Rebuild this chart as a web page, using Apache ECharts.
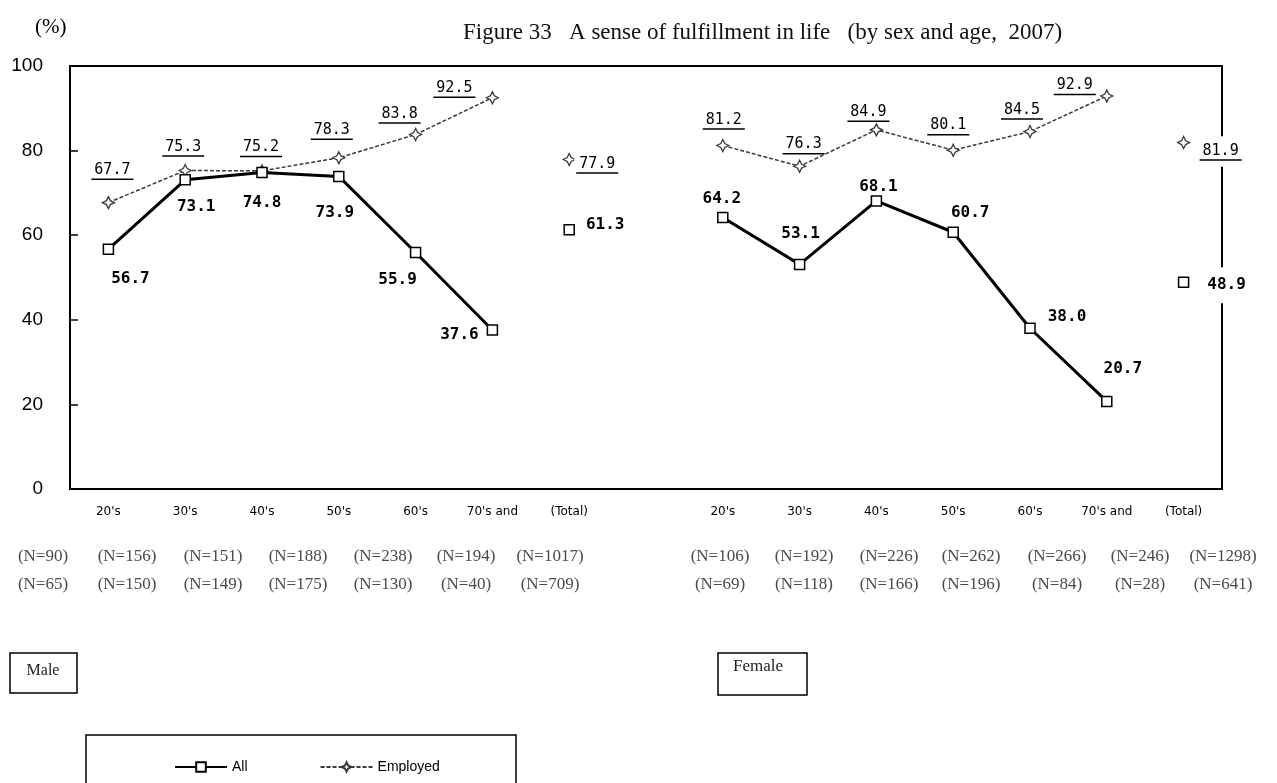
<!DOCTYPE html>
<html>
<head>
<meta charset="utf-8">
<script src="https://cdn.jsdelivr.net/npm/echarts@6/dist/echarts.min.js"></script>
<style>
html,body{margin:0;padding:0;background:#fff;}
#chart{width:1277px;height:783px;}
</style>
</head>
<body>
<div id="chart"></div>
<script>
// ---- data ----
const categories = ["20's","30's","40's","50's","60's","70's and","(Total)","","20's","30's","40's","50's","60's","70's and","(Total)"];
const maleAll = [56.7, 73.1, 74.8, 73.9, 55.9, 37.6];
const maleAllTotal = 61.3;
const femaleAll = [64.2, 53.1, 68.1, 60.7, 38.0, 20.7];
const femaleAllTotal = 48.9;
const maleEmp = [67.7, 75.3, 75.2, 78.3, 83.8, 92.5];
const maleEmpTotal = 77.9;
const femaleEmp = [81.2, 76.3, 84.9, 80.1, 84.5, 92.9];
const femaleEmpTotal = 81.9;
const yTicks = [0, 20, 40, 60, 80, 100];
const maleNAll = ["(N=90)","(N=156)","(N=151)","(N=188)","(N=238)","(N=194)","(N=1017)"];
const maleNEmp = ["(N=65)","(N=150)","(N=149)","(N=175)","(N=130)","(N=40)","(N=709)"];
const femaleNAll = ["(N=106)","(N=192)","(N=226)","(N=262)","(N=266)","(N=246)","(N=1298)"];
const femaleNEmp = ["(N=69)","(N=118)","(N=166)","(N=196)","(N=84)","(N=28)","(N=641)"];
const titleText = "Figure 33   A sense of fulfillment in life   (by sex and age,  2007)";

// ---- layout (label offsets relative to point, px) ----
const allOffsets = [[22,30],[11,27],[0,30],[-4,36],[-18,27],[-33,5],[36,-5],null,[-1,-19],[1,-31],[2,-14],[17,-19],[37,-11],[16,-33],[43,3]];
const empOffsets = [[4,-32],[-2,-23],[-1,-23],[-7,-27],[-16,-20],[-38,-9],[28,5],null,[1,-25],[4,-21],[-8,-17],[-5,-24],[-8,-21],[-32,-10],[37,9]];
const maleNX = [43,127,213,298,383,466,550];
const femaleNX = [720,804,889,971,1057,1140,1223];

const NUL = null;
function lineData(m, f, offs) {
  const arr = [];
  m.forEach((v,i)=>arr.push({value:v, label:{offset:offs[i]}}));
  arr.push(NUL, NUL);
  f.forEach((v,i)=>arr.push({value:v, label:{offset:offs[8+i]}}));
  arr.push(NUL);
  return arr;
}
function totalData(mt, ft, offs) {
  const arr = new Array(15).fill('-');
  arr[6] = {value: mt, label:{offset: offs[6]}};
  arr[14] = {value: ft, label:{offset: offs[14]}};
  return arr;
}

const starPath = 'path://M0,-10 L3.3,-3.3 L10,0 L3.3,3.3 L0,10 L-3.3,3.3 L-10,0 L-3.3,-3.3 Z';
const fmt = p => Number(p.value).toFixed(1);

const allLabel = {
  show: true, position: 'inside', align: 'center', verticalAlign: 'middle',
  formatter: fmt, fontFamily: 'DejaVu Sans Mono', fontWeight: 'bold', fontSize: 16, color: '#000'
};
const empLabel = {
  show: true, position: 'inside', align: 'center', verticalAlign: 'middle',
  formatter: p => '{v|' + Number(p.value).toFixed(1) + '}\n{u|}',
  rich: {
    v: {fontFamily: 'DejaVu Sans Mono', fontSize: 15, color: '#000', lineHeight: 17, align: 'center'},
    u: {width: 42, height: 1.5, backgroundColor: '#000', align: 'center'}
  }
};

const gText = (x, y, t, font, color, align) => ({
  type: 'text', x: x, y: y,
  style: {text: t, font: font, fill: color || '#000', textAlign: align || 'center', textVerticalAlign: 'middle'}
});

const graphics = [];
graphics.push(gText(463, 33, titleText, '23px "Liberation Serif"', '#111', 'left'));
graphics.push(gText(35, 27, '(%)', '21px "Liberation Serif"', '#000', 'left'));
maleNAll.forEach((t,i)=>graphics.push(gText(maleNX[i], 557, t, '17px "Liberation Serif"', '#4a4a4a')));
maleNEmp.forEach((t,i)=>graphics.push(gText(maleNX[i], 585, t, '17px "Liberation Serif"', '#4a4a4a')));
femaleNAll.forEach((t,i)=>graphics.push(gText(femaleNX[i], 557, t, '17px "Liberation Serif"', '#4a4a4a')));
femaleNEmp.forEach((t,i)=>graphics.push(gText(femaleNX[i], 585, t, '17px "Liberation Serif"', '#4a4a4a')));
graphics.push({type:'rect', shape:{x:10, y:653, width:67, height:40}, style:{fill:'#fff', stroke:'#000', lineWidth:1.5}});
graphics.push(gText(43, 671, 'Male', '16px "Liberation Serif"', '#222'));
graphics.push({type:'rect', shape:{x:718, y:653, width:89, height:42}, style:{fill:'#fff', stroke:'#000', lineWidth:1.5}});
graphics.push(gText(758, 667, 'Female', '17px "Liberation Serif"', '#222'));
graphics.push({type:'rect', z: -1, shape:{x:86, y:735, width:430, height:70}, style:{fill:'#fff', stroke:'#000', lineWidth:1.5}});

const chart = echarts.init(document.getElementById('chart'));
chart.setOption({
  animation: false,
  backgroundColor: '#fff',
  graphic: graphics,
  grid: {left: 70, right: 55, top: 66, bottom: 294, show: true, borderColor: '#000', borderWidth: 2, backgroundColor: 'transparent'},
  legend: {
    data: ['All', 'Employed'], left: 169, top: 755, itemWidth: 52, itemHeight: 12, itemGap: 72,
    textStyle: {fontFamily: 'Liberation Sans', fontSize: 14, color: '#000'}, z: 10
  },
  xAxis: {
    type: 'category', data: categories, boundaryGap: true,
    axisLine: {lineStyle: {color: '#000', width: 2}},
    axisTick: {show: false},
    axisLabel: {interval: 0, margin: 17, fontFamily: 'DejaVu Sans', fontSize: 12, color: '#000'},
    splitLine: {show: false}
  },
  yAxis: {
    type: 'value', min: yTicks[0], max: yTicks[yTicks.length-1], interval: 20,
    axisLine: {show: true, lineStyle: {color: '#000', width: 2}},
    axisTick: {show: true, inside: true, length: 8, lineStyle: {color: '#000', width: 1.5}},
    axisLabel: {margin: 27, fontFamily: 'Liberation Sans', fontSize: 19, color: '#000'},
    splitLine: {show: false}
  },
  series: [
    {
      name: 'Employed', type: 'line', data: lineData(maleEmp, femaleEmp, empOffsets),
      symbol: starPath, symbolSize: 12, connectNulls: false, z: 3,
      lineStyle: {color: '#3a3a3a', width: 1.5, type: [4, 2]},
      itemStyle: {color: '#fff', borderColor: '#3a3a3a', borderWidth: 1.3},
      label: empLabel
    },
    {
      name: 'Employed total', type: 'scatter', data: totalData(maleEmpTotal, femaleEmpTotal, empOffsets),
      symbol: starPath, symbolSize: 12, z: 3,
      itemStyle: {color: '#fff', borderColor: '#3a3a3a', borderWidth: 1.3, opacity: 1},
      label: Object.assign({}, empLabel, {backgroundColor: '#fff', padding: [6, 2]})
    },
    {
      name: 'All', type: 'line', data: lineData(maleAll, femaleAll, allOffsets),
      symbol: 'rect', symbolSize: 10, connectNulls: false, z: 4,
      lineStyle: {color: '#000', width: 3},
      itemStyle: {color: '#fff', borderColor: '#000', borderWidth: 1.5},
      label: allLabel
    },
    {
      name: 'All total', type: 'scatter', data: totalData(maleAllTotal, femaleAllTotal, allOffsets),
      symbol: 'rect', symbolSize: 10, z: 4,
      itemStyle: {color: '#fff', borderColor: '#000', borderWidth: 1.5, opacity: 1},
      label: Object.assign({}, allLabel, {backgroundColor: '#fff', padding: [10, 2]})
    }
  ]
});
</script>
</body>
</html>
